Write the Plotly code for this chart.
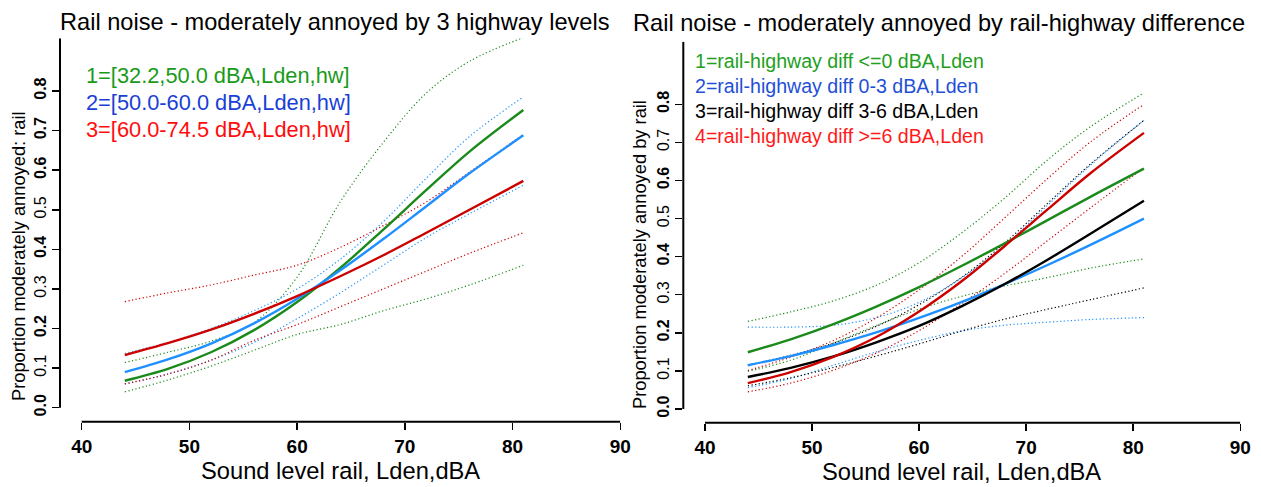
import plotly.graph_objects as go

# ---------------- data ----------------
X = [44, 48, 52, 56, 60, 64, 68, 72, 76, 81]

# Left panel: 3 highway levels
L_green = [0.068, 0.098, 0.140, 0.196, 0.267, 0.353, 0.450, 0.550, 0.647, 0.752]
L_green_up = [0.114, 0.140, 0.168, 0.215, 0.330, 0.520, 0.670, 0.795, 0.875, 0.935]
L_green_lo = [0.040, 0.070, 0.105, 0.145, 0.185, 0.210, 0.245, 0.275, 0.310, 0.360]
L_blue = [0.090, 0.122, 0.162, 0.213, 0.275, 0.347, 0.426, 0.509, 0.592, 0.688]
L_blue_up = [0.137, 0.165, 0.200, 0.245, 0.300, 0.375, 0.470, 0.580, 0.685, 0.785]
L_blue_lo = [0.060, 0.085, 0.120, 0.165, 0.225, 0.290, 0.360, 0.430, 0.490, 0.562]
L_red = [0.133, 0.163, 0.197, 0.237, 0.282, 0.332, 0.385, 0.442, 0.500, 0.573]
L_red_up = [0.268, 0.290, 0.310, 0.335, 0.360, 0.405, 0.460, 0.520, 0.595, 0.690]
L_red_lo = [0.060, 0.085, 0.120, 0.170, 0.210, 0.255, 0.300, 0.345, 0.390, 0.442]

# Right panel: rail-highway difference
R_green = [0.149, 0.183, 0.223, 0.269, 0.320, 0.376, 0.435, 0.496, 0.557, 0.631]
R_green_up = [0.230, 0.255, 0.284, 0.325, 0.384, 0.463, 0.554, 0.654, 0.741, 0.830]
R_green_lo = [0.099, 0.128, 0.173, 0.219, 0.262, 0.296, 0.323, 0.345, 0.370, 0.394]
R_blue = [0.115, 0.139, 0.168, 0.201, 0.239, 0.281, 0.328, 0.378, 0.431, 0.500]
R_blue_up = [0.215, 0.215, 0.220, 0.240, 0.280, 0.345, 0.430, 0.535, 0.640, 0.758]
R_blue_lo = [0.056, 0.080, 0.115, 0.150, 0.180, 0.205, 0.220, 0.228, 0.235, 0.240]
R_black = [0.084, 0.108, 0.138, 0.175, 0.218, 0.270, 0.328, 0.392, 0.460, 0.547]
R_black_up = [0.115, 0.141, 0.173, 0.217, 0.274, 0.346, 0.436, 0.540, 0.643, 0.758]
R_black_lo = [0.061, 0.082, 0.109, 0.139, 0.171, 0.205, 0.236, 0.262, 0.287, 0.318]
R_red = [0.068, 0.097, 0.137, 0.189, 0.256, 0.336, 0.428, 0.524, 0.619, 0.725]
R_red_up = [0.101, 0.136, 0.180, 0.239, 0.313, 0.401, 0.502, 0.605, 0.701, 0.800]
R_red_lo = [0.045, 0.068, 0.102, 0.147, 0.206, 0.277, 0.356, 0.442, 0.528, 0.634]

x_ticks = [40, 50, 60, 70, 80, 90]
x_ticklabels = ["40", "50", "60", "70", "80", "90"]
y_ticks = [0.0, 0.1, 0.2, 0.3, 0.4, 0.5, 0.6, 0.7, 0.8]
y_ticklabels_left = ["<b>0.0</b>", "0.1", "<b>0.2</b>", "0.3", "<b>0.4</b>", "0.5", "<b>0.6</b>", "<b>0.7</b>", "<b>0.8</b>"]
y_ticklabels_right = ["<b>0.0</b>", "0.1", "<b>0.2</b>", "0.3", "<b>0.4</b>", "0.5", "<b>0.6</b>", "0.7", "<b>0.8</b>"]

title_left = "Rail noise - moderately annoyed by 3 highway levels"
title_right = "Rail noise - moderately annoyed by rail-highway difference"
ytitle_left = "Proportion moderately annoyed: rail"
ytitle_right = "Proportion moderately annoyed by rail"
xtitle = "Sound level rail, Lden,dBA"
legend_left = ["1=[32.2,50.0 dBA,Lden,hw]", "2=[50.0-60.0 dBA,Lden,hw]", "3=[60.0-74.5 dBA,Lden,hw]"]
legend_right = ["1=rail-highway diff <=0 dBA,Lden", "2=rail-highway diff 0-3 dBA,Lden",
                "3=rail-highway diff 3-6 dBA,Lden", "4=rail-highway diff >=6 dBA,Lden"]

# ---------------- styles ----------------
FONT = "Liberation Sans, Arial, sans-serif"
W, H = 1261, 487
GREEN, BLUE, RED, BLACK = "#1a8a1a", "#1e90ff", "#cd0000", "#000000"
LEG_GREEN, LEG_BLUE, LEG_RED = "#1a9a1a", "#1a3fd6", "#ff0d0d"

fig = go.Figure()


def add(xs, ys, color, xa, ya, dotted=False):
    fig.add_trace(go.Scatter(
        x=xs, y=ys, mode="lines", xaxis=xa, yaxis=ya, showlegend=False, hoverinfo="skip",
        line=dict(color=color, width=1.2 if dotted else 2.4, dash="1.2px,2.4px" if dotted else "solid",
                  shape="spline", smoothing=1.0)))


# left panel dotted CIs
for s, c in [(L_green_up, GREEN), (L_green_lo, GREEN), (L_blue_up, BLUE), (L_blue_lo, BLUE),
             (L_red_up, RED), (L_red_lo, RED)]:
    add(X, s, c, "x", "y", dotted=True)
for s, c in [(L_green, GREEN), (L_blue, BLUE), (L_red, RED)]:
    add(X, s, c, "x", "y")

# right panel
for s, c in [(R_green_up, GREEN), (R_green_lo, GREEN), (R_blue_up, BLUE), (R_blue_lo, BLUE),
             (R_black_up, BLACK), (R_black_lo, BLACK), (R_red_up, RED), (R_red_lo, RED)]:
    add(X, s, c, "x2", "y2", dotted=True)
for s, c in [(R_green, GREEN), (R_blue, BLUE), (R_black, BLACK), (R_red, RED)]:
    add(X, s, c, "x2", "y2")

# ---------------- axes ----------------
def xax(domain, rng, anchor):
    return dict(domain=domain, range=rng, anchor=anchor, tickvals=x_ticks, automargin=False,
                ticktext=[f"<b>{t}</b>" for t in x_ticklabels], ticks="outside", ticklen=7,
                tickwidth=1.5, tickcolor="black", showline=False, showgrid=False, zeroline=False,
                tickfont=dict(family=FONT, size=19, color="black"), fixedrange=True)


def yax(domain, rng, anchor, labels):
    return dict(domain=domain, range=rng, anchor=anchor, tickvals=y_ticks, ticktext=labels,
                automargin=False, ticks="outside", ticklen=7, tickwidth=1.5, tickcolor="black",
                tickangle=-90, showline=False, showgrid=False, zeroline=False,
                tickfont=dict(family=FONT, size=16, color="black"), fixedrange=True)


# left geometry (pixels): y-axis line x=60, 40->81.7, 90->620.3 ; x-axis line y=421.7, 0->407.7, top 38.3
xl0 = 40 - (81.7 - 60) / ((620.3 - 81.7) / 50)
yl0 = -(421.7 - 407.7) / ((407.7 - 91.0) / 0.8)
yl1 = (407.7 - 38.3) / ((407.7 - 91.0) / 0.8)
# right geometry: y-axis x=683.3, 40->705, 90->1240.3 ; x-axis y=422.7, 0->409, 0.8->104.3, top 41.7
xr0 = 40 - (705 - 683.3) / ((1240.3 - 705) / 50)
yr0 = -(422.7 - 409) / ((409 - 104.3) / 0.8)
yr1 = (409 - 41.7) / ((409 - 104.3) / 0.8)

fig.update_layout(
    width=W, height=H, margin=dict(l=0, r=0, t=0, b=0, autoexpand=False),
    paper_bgcolor="white", plot_bgcolor="white", showlegend=False,
    xaxis=xax([60 / W, 620.3 / W], [xl0, 90], "y"),
    yaxis=yax([1 - 421.7 / H, 1 - 38.3 / H], [yl0, yl1], "x", y_ticklabels_left),
    xaxis2=xax([683.3 / W, 1240.3 / W], [xr0, 90], "y2"),
    yaxis2=yax([1 - 422.7 / H, 1 - 41.7 / H], [yr0, yr1], "x2", y_ticklabels_right),
)

# axis lines (R style: span from first to last tick)
for xa, ya, top in [("x", "y", yl1), ("x2", "y2", yr1)]:
    fig.add_shape(type="line", xref=xa, yref=f"{ya} domain", x0=40, x1=90, y0=0, y1=0,
                  line=dict(color="black", width=2))
    fig.add_shape(type="line", xref=f"{xa} domain", yref=ya, x0=0, x1=0, y0=0, y1=top,
                  line=dict(color="black", width=2))

# ---------------- text ----------------
def ann(text, x, y, size, color="black", angle=0, xanchor="center", yanchor="middle"):
    fig.add_annotation(text=text, x=x / W, y=1 - y / H, xref="paper", yref="paper",
                       showarrow=False, textangle=angle, xanchor=xanchor, yanchor=yanchor,
                       font=dict(family=FONT, size=size, color=color))


ann(title_left, 335, 22, 23.6)
ann(title_right, 939, 23, 23.6)
ann(ytitle_left, 18, 256, 18.3, angle=-90)
ann(ytitle_right, 639, 255, 18.3, angle=-90)
ann(xtitle, 340, 471, 23.7)
ann(xtitle, 962, 472, 23.7)

for t, c, yy in zip(legend_left, [LEG_GREEN, LEG_BLUE, LEG_RED], [75, 102, 129]):
    ann(t, 84, yy, 21.8, color=c, xanchor="left")
for t, c, yy in zip(legend_right, ["#22a022", "#1f4fd8", "#000000", "#ff1a1a"], [61, 86, 111, 136]):
    ann(t, 693, yy, 19.6, color=c, xanchor="left")

fig.write_html("out.html", config={"displayModeBar": False, "staticPlot": True},
               post_script="document.body.style.margin='0px';document.body.style.overflow='hidden';")
